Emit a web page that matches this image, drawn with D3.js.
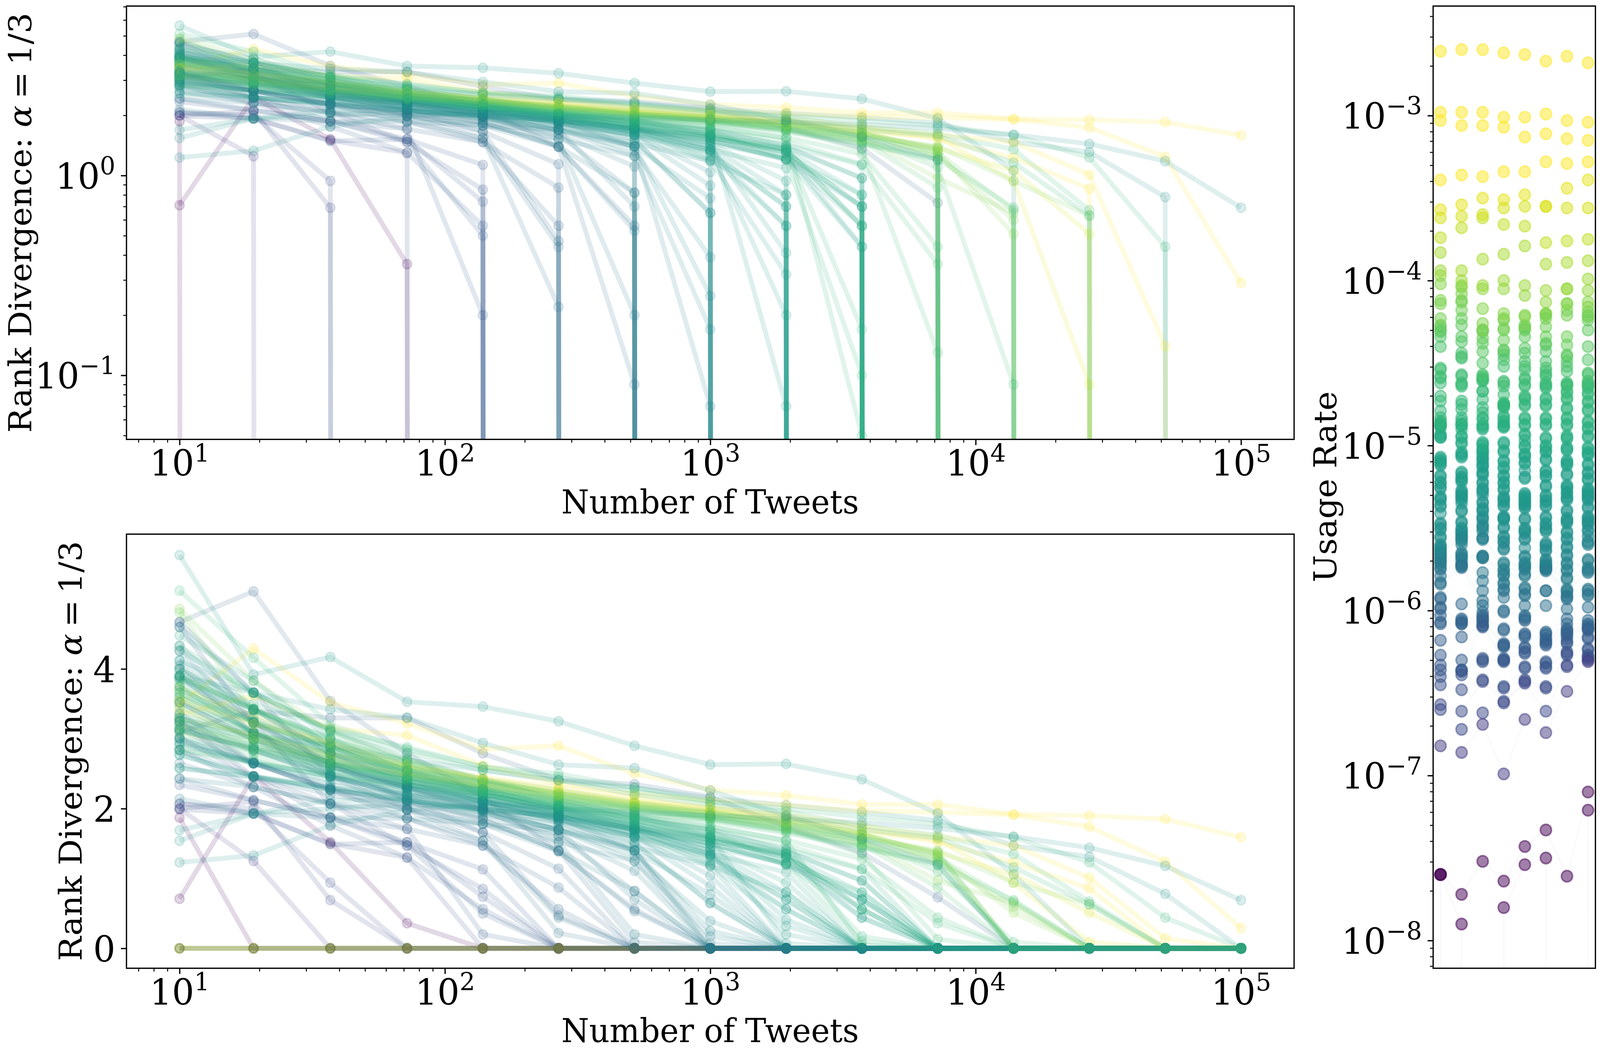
<!DOCTYPE html>
<html>
<head>
<meta charset="utf-8">
<script src="https://cdn.jsdelivr.net/npm/d3@7"></script>
<style>
  html, body { margin: 0; background: #fff; overflow: hidden; }
  text { font-family: "DejaVu Serif", serif; fill: #000; }
</style>
</head>
<body>
<div id="chart"></div>
<script>
const tweetCounts = [10, 19, 37, 72, 139, 268, 518, 1000, 1931, 3727, 7196, 13895, 26827, 51795, 100000]
const xTickExponents = [1, 2, 3, 4, 5]
const topTickExponents = [-1, 0]
const bottomTicks = [0, 2, 4]
const usageTickExponents = [-8, -7, -6, -5, -4, -3]

// rank divergence per word at each tweet count, the trailing zeros are left out.
// words run from the highest usage to the lowest
const divergenceRows = [
  [3.50, 4.29, 3.52, 3.22, 2.85, 2.90, 2.50, 2.27, 2.19, 2.06, 2.06, 1.92, 1.90, 1.85, 1.59],
  [3.35, 3.62, 3.15, 3.05, 2.62, 2.36, 2.21, 2.12, 2.05, 1.97, 1.95, 1.91, 1.74, 1.24, 0.29],
  [3.55, 3.21, 2.95, 2.62, 2.45, 2.31, 2.16, 2.01, 1.92, 1.76, 1.60, 1.47, 1.01, 0.14],
  [3.72, 3.32, 2.92, 2.55, 2.36, 2.24, 2.10, 1.97, 1.86, 1.72, 1.52, 1.23, 0.86],
  [3.28, 3.06, 2.78, 2.60, 2.42, 2.26, 2.11, 2.02, 1.88, 1.66, 1.56, 0.94, 0.09],
  [3.42, 3.01, 2.71, 2.49, 2.33, 2.20, 2.06, 1.95, 1.81, 1.63, 1.37, 1.06, 0.51],
  [], [], [], [],
  // light green
  [3.18, 2.96, 2.66, 2.47, 2.30, 2.14, 2.03, 1.90, 1.73, 1.51, 1.31, 0.51],
  [3.08, 2.88, 2.72, 2.52, 2.28, 2.12, 1.98, 1.88, 1.76, 1.53, 0.97, 0.65],
  [4.86, 3.83, 3.10, 2.70, 2.40, 2.22, 2.07, 1.93, 1.83, 1.64, 1.25, 0.60],
  [4.81, 3.40, 2.90, 2.58, 2.38, 2.18, 2.02, 1.96, 1.78, 1.59, 1.40, 0.94, 0.63],
  [3.75, 3.25, 2.88, 2.62, 2.40, 2.23, 2.08, 1.98, 1.84, 1.65, 1.33],
  [3.90, 3.43, 2.98, 2.68, 2.43, 2.27, 2.09, 1.94, 1.79, 1.58, 1.38],
  [3.65, 3.22, 2.85, 2.55, 2.37, 2.21, 2.04, 1.93, 1.80, 1.62, 1.36],
  [3.52, 3.09, 2.77, 2.50, 2.32, 2.16, 2.00, 1.90, 1.72, 1.56, 1.30, 0.67],
  [3.25, 2.86, 2.64, 2.46, 2.29, 2.13, 1.99, 1.86, 1.69, 1.47, 1.24],
  [3.13, 2.82, 2.60, 2.42, 2.26, 2.10, 1.97, 1.85, 1.70, 1.49, 0.87],
  [2.84, 2.65, 2.47, 2.33, 2.20, 2.06, 1.92, 1.84, 1.67, 1.45, 1.21, 0.69],
  [3.60, 3.12, 2.79, 2.56, 2.35, 2.17, 2.01, 1.89, 1.77, 1.55, 1.10, 0.09],
  [3.01, 2.78, 2.55, 2.38, 2.24, 2.08, 1.95, 1.82, 1.65, 1.44, 1.19],
  [3.85, 3.42, 3.00, 2.65, 2.42, 2.20, 2.03, 1.87, 1.71, 1.35, 0.13],
  [3.20, 2.90, 2.65, 2.45, 2.25, 2.05, 1.90, 1.75, 1.55, 1.28, 0.44],
  [2.92, 2.70, 2.50, 2.35, 2.20, 2.02, 1.85, 1.70, 1.48, 1.14, 0.36],
  [5.12, 4.16, 3.20, 2.85, 2.60, 2.50, 2.30, 2.10, 1.96, 1.75, 1.62, 1.35, 0.67],
  [4.33, 3.66, 3.13, 2.80, 2.55, 2.41, 2.20, 2.05, 1.90, 1.70, 1.58, 1.16, 0.63],
  [4.00, 3.50, 3.15, 2.88, 2.60, 2.45, 2.25, 2.10, 2.00, 1.88, 1.78, 1.59, 1.23, 0.44],
  [3.90, 3.42, 2.95, 2.60, 2.38, 2.14, 1.90, 1.74, 1.54, 0.05],
  [3.29, 3.00, 2.65, 2.40, 2.20, 2.04, 1.87, 1.68, 1.20, 0.10],
  [3.75, 3.08, 2.79, 2.53, 2.30, 2.10, 1.83, 1.59, 1.35, 0.17],
  [3.60, 3.25, 2.87, 2.48, 2.21, 2.00, 1.80, 1.60, 1.36, 0.56],
  [2.84, 2.68, 2.45, 2.30, 2.15, 1.95, 1.78, 1.55, 1.30, 0.70],
  [3.45, 2.99, 2.67, 2.41, 2.20, 1.98, 1.75, 1.50, 1.22, 0.80],
  [4.26, 3.66, 3.10, 2.66, 2.34, 2.05, 1.83, 1.62, 1.38, 0.97],
  [3.88, 3.42, 3.02, 2.60, 2.30, 2.07, 1.86, 1.66, 1.42, 1.13],
  [3.12, 2.86, 2.60, 2.35, 2.15, 1.93, 1.72, 1.54, 1.35, 0.56],
  [3.35, 3.05, 2.70, 2.45, 2.27, 2.02, 1.80, 1.57, 1.30, 0.70],
  [2.77, 2.47, 2.30, 2.12, 2.00, 1.88, 1.70, 1.50, 1.20, 0.44],
  // teal green
  [3.70, 3.23, 2.89, 2.52, 2.25, 2.00, 1.78, 1.55, 1.34, 0.80],
  [3.15, 2.84, 2.50, 2.28, 2.10, 1.92, 1.70, 1.45, 1.22, 0.56],
  [3.66, 3.08, 2.70, 2.40, 2.18, 1.93, 1.68, 1.33, 0.70],
  [4.48, 3.83, 3.00, 2.53, 2.25, 1.95, 1.70, 1.25, 0.56],
  [2.58, 2.46, 2.27, 2.12, 1.98, 1.82, 1.59, 1.18, 0.80],
  [3.25, 2.99, 2.60, 2.33, 2.12, 1.90, 1.65, 1.35, 1.09],
  [4.00, 3.42, 2.93, 2.55, 2.28, 2.02, 1.75, 1.45, 0.94],
  [3.90, 3.30, 2.88, 2.50, 2.22, 1.98, 1.72, 1.40, 0.80],
  [2.95, 2.66, 2.47, 2.25, 2.05, 1.85, 1.60, 1.30, 0.70],
  [3.30, 2.90, 2.55, 2.31, 2.10, 1.90, 1.62, 1.33, 0.56],
  [3.55, 3.08, 2.65, 2.35, 2.15, 1.95, 1.70, 1.40, 0.41],
  [3.02, 2.65, 2.40, 2.20, 2.05, 1.88, 1.66, 1.20, 0.32],
  [3.83, 3.23, 2.79, 2.46, 2.20, 2.00, 1.75, 1.35, 0.20],
  [4.12, 3.66, 3.12, 2.72, 2.42, 2.12, 1.90, 1.60, 0.07],
  [5.63, 3.92, 4.17, 3.53, 3.46, 3.25, 2.90, 2.63, 2.64, 2.42, 1.93, 1.06],
  [3.30, 3.05, 2.90, 2.70, 2.55, 2.40, 2.30, 2.15, 2.05, 1.95, 1.83, 1.47, 1.31, 0.78],
  [1.69, 1.93, 2.00, 2.07, 2.00, 1.88, 1.72, 1.59, 1.30, 0.44],
  [2.58, 2.45, 2.30, 2.20, 2.10, 2.00, 1.95, 1.90, 1.85, 1.80, 1.72, 1.60, 1.44, 1.18, 0.69],
  [1.23, 1.33, 1.76, 1.98, 2.07, 2.00, 1.88, 1.70, 1.40, 0.97],
  [1.54, 1.93, 2.12, 2.12, 1.98, 1.90, 1.70, 1.50, 1.20, 0.70],
  [3.90, 3.66, 3.42, 3.30, 2.94, 2.63, 2.58, 2.26, 1.90, 1.57, 1.20],
  // teal
  [4.12, 3.42, 2.79, 2.37, 2.10, 1.82, 1.52, 0.65],
  [2.77, 2.46, 2.27, 2.12, 1.95, 1.70, 1.45, 1.18],
  [3.75, 3.08, 2.65, 2.31, 2.05, 1.84, 1.60, 1.04],
  [4.60, 3.66, 2.89, 2.45, 2.17, 1.90, 1.59, 0.89],
  [3.13, 2.84, 2.46, 2.20, 1.98, 1.75, 1.40, 0.77],
  [3.87, 3.23, 2.75, 2.35, 2.10, 1.85, 1.50, 0.65],
  [2.92, 2.65, 2.35, 2.12, 1.92, 1.70, 1.33, 0.39],
  [4.33, 3.42, 2.80, 2.41, 2.10, 1.88, 1.40, 0.25],
  [3.20, 2.84, 2.46, 2.20, 1.98, 1.70, 1.25, 0.17],
  [3.52, 2.99, 2.60, 2.30, 2.02, 1.80, 1.40, 0.07],
  [2.14, 1.93, 1.87, 1.86, 1.78, 1.69, 1.40],
  [4.00, 3.08, 2.50, 2.15, 1.84, 1.40, 0.82],
  [2.43, 2.31, 2.07, 1.98, 1.78, 1.52, 1.25],
  [3.52, 2.99, 2.46, 2.17, 1.95, 1.62, 1.11],
  [3.00, 2.65, 2.27, 2.10, 1.88, 1.60, 0.82],
  [4.26, 3.23, 2.65, 2.30, 2.00, 1.69, 0.70],
  [2.84, 2.46, 2.20, 2.00, 1.78, 1.39, 0.53],
  [3.90, 3.08, 2.60, 2.27, 1.98, 1.52, 0.20],
  [3.25, 2.65, 2.30, 2.05, 1.85, 1.40, 0.09],
  [2.65, 2.31, 2.07, 1.86, 1.54, 0.44],
  [3.37, 2.65, 2.27, 1.98, 1.54, 0.22],
  // blue
  [4.05, 3.23, 2.65, 2.12, 1.66, 0.47],
  [3.13, 2.65, 2.27, 1.86, 1.47, 0.56],
  [2.43, 2.12, 1.87, 1.71, 1.47, 0.87],
  [4.67, 3.66, 2.46, 2.00, 1.66, 1.14],
  [4.67, 5.11, 3.54, 2.79, 2.17, 1.39, 0.56],
  [3.10, 3.40, 3.30, 3.30, 2.79, 2.41, 2.35, 2.17, 1.74, 1.37, 0.73],
  [3.01, 2.46, 2.07, 1.71, 0.20],
  [3.25, 2.46, 1.87, 1.47, 0.50],
  [2.84, 2.31, 1.76, 1.30, 0.56],
  [2.34, 2.12, 1.87, 1.52, 0.74],
  [4.60, 3.23, 2.07, 1.47, 0.85],
  [1.99, 1.93, 1.49, 1.52, 1.13],
  [2.07, 1.93, 1.50, 1.30],
  [2.07, 2.00, 0.94],
  [2.00, 2.10, 0.69],
  [2.00, 1.25],
  // purple
  [1.87],
  [0.71, 2.46, 1.52, 0.36],
  []
]

// log10 usage rate in each of the eight bins, same word order, null where the word is missing
const usageBin0 = [-2.61, -2.98, -3.03, -3.39, -3.57, -3.62, -3.74, -3.83, -3.94, -3.97,
  -4.02, -4.12, -4.14, -4.23, -4.27, -4.28, -4.30, -4.31, -4.34, -4.40, -4.53, -4.54, -4.58, -4.59, -4.62,
  -4.70, -4.73, -4.79, -4.83, -4.85, -4.86, -4.87, -4.87, -4.88, -4.88, -4.89, -4.93, -4.94, -4.95, -4.95,
  -5.07, -5.08, -5.09, -5.10, -5.11, -5.12, -5.18, -5.19, -5.22, -5.23, -5.25, -5.26, -5.31, -5.32, -5.33,
  -5.36, -5.37, -5.41, -5.47, -5.48, -5.50, -5.51, -5.55, -5.56, -5.60, -5.61, -5.62, -5.63, -5.64, -5.65,
  -5.66, -5.67, -5.68, -5.69, -5.70, -5.71, -5.72, -5.74, -5.75, -5.79, -5.83, -5.84,
  -5.92, -5.93, -5.98, -5.99, -6.03, -6.07, -6.08, -6.18, -6.27, -6.33, -6.36, -6.40, -6.45, -6.57, -6.60, -6.82,
  -7.60, -7.60, -7.60]
const usageBin1 = [-2.60, -2.98, -3.06, -3.36, -3.54, -3.61, -3.68, -3.94, -4.00, -4.03,
  -4.04, -4.08, -4.12, -4.13, -4.18, -4.23, -4.27, -4.34, -4.37, -4.44, -4.46, -4.47, -4.57, -4.58, -4.62,
  -4.63, -4.64, -4.73, -4.75, -4.78, -4.83, -4.85, -4.87, -4.87, -4.88, -4.90, -4.94, -4.95, -4.98, -4.99,
  -5.04, -5.05, -5.06, -5.07, -5.16, -5.17, -5.19, -5.20, -5.21, -5.22, -5.27, -5.28, -5.29, -5.30, -5.31,
  -5.32, -5.33, -5.35, -5.39, -5.40, -5.46, -5.47, -5.50, -5.51, -5.52, -5.53, -5.54, -5.55, -5.56, -5.57,
  -5.58, -5.60, -5.65, -5.66, -5.67, -5.68, -5.69, -5.71, -5.72, -5.73, -5.73, -5.74,
  -5.96, -6.05, -6.06, -6.07, -6.08, -6.08, -6.16, -6.30, -6.36, -6.36, -6.37, -6.39, -6.48, -6.61, -6.72, -6.86,
  -7.72, -7.90, null]
const usageBin2 = [-2.60, -2.98, -3.06, -3.37, -3.50, -3.60, -3.62, -3.87, -4.03, -4.05,
  -4.17, -4.26, -4.30, -4.30, -4.31, -4.35, -4.38, -4.43, -4.50, -4.57, -4.58, -4.59, -4.60, -4.60, -4.61,
  -4.67, -4.67, -4.72, -4.77, -4.80, -4.83, -4.84, -4.87, -4.88, -4.89, -4.90, -4.98, -4.99, -5.00, -5.02,
  -5.03, -5.04, -5.05, -5.07, -5.08, -5.09, -5.11, -5.12, -5.13, -5.16, -5.17, -5.18, -5.22, -5.23, -5.26,
  -5.27, -5.28, -5.30, -5.34, -5.35, -5.38, -5.39, -5.40, -5.43, -5.44, -5.45, -5.48, -5.49, -5.50, -5.52,
  -5.56, -5.56, -5.57, -5.67, -5.67, -5.68, -5.68, -5.77, -5.82, -5.88, -5.94, -5.97,
  -6.01, -6.03, -6.04, -6.05, -6.06, -6.07, -6.09, -6.09, -6.10, -6.29, -6.30, -6.31, -6.42, -6.43, -6.62, -6.69,
  -7.52, null, null]
const usageBin3 = [-2.62, -3.01, -3.07, -3.34, -3.51, -3.56, -3.66, -3.84, -4.00, -4.05,
  -4.20, -4.23, -4.24, -4.29, -4.30, -4.36, -4.42, -4.43, -4.45, -4.48, -4.52, -4.61, -4.62, -4.64, -4.69,
  -4.74, -4.75, -4.75, -4.76, -4.76, -4.77, -4.82, -4.83, -4.85, -4.86, -4.88, -4.88, -4.89, -4.98, -4.99,
  -5.03, -5.04, -5.09, -5.10, -5.13, -5.14, -5.18, -5.19, -5.22, -5.23, -5.26, -5.27, -5.31, -5.32, -5.33,
  -5.34, -5.36, -5.37, -5.43, -5.44, -5.44, -5.45, -5.49, -5.50, -5.55, -5.56, -5.58, -5.59, -5.62, -5.63,
  -5.71, -5.72, -5.75, -5.76, -5.78, -5.79, -5.83, -5.84, -5.87, -5.88, -5.92, -6.00,
  -6.01, -6.11, -6.12, -6.20, -6.21, -6.21, -6.22, -6.29, -6.30, -6.30, -6.31, -6.46, -6.47, -6.55, -6.56, -6.99,
  -7.64, -7.80, null]
const usageBin4 = [-2.63, -3.01, -3.13, -3.34, -3.48, -3.55, -3.67, -3.79, -4.03, -4.09,
  -4.21, -4.22, -4.27, -4.28, -4.29, -4.30, -4.34, -4.41, -4.44, -4.49, -4.52, -4.54, -4.59, -4.60, -4.63,
  -4.64, -4.70, -4.71, -4.72, -4.75, -4.76, -4.83, -4.84, -4.87, -4.88, -4.93, -4.94, -4.97, -5.00, -5.01,
  -5.05, -5.06, -5.07, -5.10, -5.11, -5.15, -5.19, -5.20, -5.29, -5.30, -5.31, -5.32, -5.33, -5.34, -5.35,
  -5.36, -5.37, -5.38, -5.44, -5.45, -5.50, -5.51, -5.52, -5.53, -5.56, -5.57, -5.62, -5.67, -5.68, -5.71,
  -5.72, -5.73, -5.74, -5.75, -5.78, -5.79, -5.86, -5.87, -5.90, -5.91, -5.97, -6.03,
  -6.04, -6.05, -6.06, -6.14, -6.15, -6.16, -6.22, -6.23, -6.25, -6.26, -6.34, -6.35, -6.42, -6.43, -6.44, -6.66,
  -7.43, -7.54, null]
const usageBin5 = [-2.67, -2.99, -3.11, -3.28, -3.55, -3.55, -3.77, -3.90, -4.06, -4.13,
  -4.20, -4.20, -4.21, -4.23, -4.28, -4.34, -4.38, -4.39, -4.43, -4.49, -4.53, -4.55, -4.57, -4.58, -4.62,
  -4.63, -4.64, -4.65, -4.71, -4.72, -4.75, -4.76, -4.83, -4.84, -4.87, -4.88, -4.95, -4.96, -5.00, -5.01,
  -5.03, -5.04, -5.08, -5.09, -5.15, -5.16, -5.18, -5.19, -5.24, -5.25, -5.30, -5.31, -5.33, -5.34, -5.36,
  -5.37, -5.43, -5.44, -5.47, -5.48, -5.50, -5.51, -5.52, -5.59, -5.60, -5.61, -5.63, -5.64, -5.69, -5.70,
  -5.71, -5.72, -5.73, -5.73, -5.74, -5.74, -5.75, -5.75, -5.76, -5.88, -5.88, -5.97,
  -6.13, -6.14, -6.15, -6.17, -6.18, -6.19, -6.20, -6.21, -6.31, -6.32, -6.34, -6.35, -6.46, -6.47, -6.61, -6.74,
  -7.33, -7.50, null]
const usageBin6 = [-2.64, -3.03, -3.14, -3.29, -3.44, -3.56, -3.76, -3.89, -4.05, -4.05,
  -4.14, -4.14, -4.18, -4.21, -4.34, -4.39, -4.45, -4.46, -4.49, -4.52, -4.55, -4.62, -4.63, -4.63, -4.64,
  -4.67, -4.68, -4.71, -4.72, -4.77, -4.78, -4.83, -4.84, -4.87, -4.88, -4.94, -4.95, -4.96, -5.01, -5.02,
  -5.03, -5.09, -5.10, -5.11, -5.12, -5.17, -5.18, -5.24, -5.25, -5.26, -5.28, -5.29, -5.31, -5.32, -5.33,
  -5.39, -5.40, -5.44, -5.45, -5.46, -5.47, -5.52, -5.53, -5.56, -5.57, -5.61, -5.62, -5.66, -5.67, -5.71,
  -5.72, -5.75, -5.76, -5.80, -5.81, -5.87, -5.88, -5.89, -5.91, -5.92, -5.93, -5.99,
  -6.05, -6.08, -6.11, -6.12, -6.13, -6.14, -6.15, -6.17, -6.19, -6.20, -6.25, -6.26, -6.27, -6.33, -6.34, -6.49,
  -7.61, null, null]
const usageBin7 = [-2.68, -3.04, -3.15, -3.28, -3.39, -3.56, -3.75, -3.88, -3.99, -4.06,
  -4.13, -4.16, -4.19, -4.21, -4.22, -4.24, -4.30, -4.40, -4.48, -4.56, -4.57, -4.61, -4.62, -4.63, -4.64,
  -4.65, -4.68, -4.69, -4.73, -4.74, -4.78, -4.79, -4.85, -4.86, -4.89, -4.90, -4.94, -4.95, -5.01, -5.02,
  -5.04, -5.05, -5.06, -5.11, -5.12, -5.16, -5.17, -5.20, -5.21, -5.26, -5.27, -5.28, -5.29, -5.30, -5.31,
  -5.32, -5.33, -5.37, -5.38, -5.43, -5.44, -5.45, -5.46, -5.47, -5.48, -5.51, -5.52, -5.55, -5.58, -5.59,
  -5.60, -5.69, -5.70, -5.74, -5.75, -5.76, -5.77, -5.87, -5.88, -5.90, -5.91, -5.98,
  -6.06, -6.08, -6.09, -6.10, -6.11, -6.11, -6.12, -6.16, -6.17, -6.23, -6.24, -6.27, -6.28, -6.29, -6.30, -6.31,
  -7.10, -7.21, null]
const usageBins = [usageBin0, usageBin1, usageBin2, usageBin3, usageBin4, usageBin5, usageBin6, usageBin7]

// mean log10 usage to position on the viridis ramp
const colorUsage = [-7.5, -6.8, -6.4, -6.1, -5.9, -5.7, -5.5, -5.15, -4.85, -4.55, -4.28, -4.03, -3.83, -3.56, -3.38]
const colorRamp = [0, 0.15, 0.25, 0.32, 0.37, 0.43, 0.5, 0.56, 0.64, 0.7, 0.78, 0.85, 0.88, 0.94, 1]

const WIDTH = 4200
const HEIGHT = 2700
const ZERO = 1e-300
const PT = 300 / 72
const TITLE_SIZE = 20 * PT
const TICK_SIZE = 22 * PT
const BLUE_FROM = 82

const panelLeft = { left: 332, right: 3397 }
const panels = {
  top: { top: 15.5, bottom: 1124.5 },
  bottom: { top: 1367, bottom: 2478 },
  usage: { left: 3762, right: 4188, top: 15.5, bottom: 2478 }
}

const rampScale = d3.scaleLinear().domain(colorUsage).range(colorRamp).clamp(true)

const words = divergenceRows.map((row, i) => {
  const logs = usageBins.map(bin => bin[i])
  return {
    values: tweetCounts.map((_, k) => row[k] === undefined ? 0 : row[k]),
    usage: logs.map(v => v === null ? 0 : Math.pow(10, v)),
    color: d3.interpolateViridis(rampScale(d3.mean(logs))),
    flat: row.length === 0,
    rare: i >= BLUE_FROM,
    drawKey: (i * 37) % divergenceRows.length
  }
})

// rare words at the bottom of the stack, then the flat ones, the rest in no particular order
const drawOrder = words.filter(w => w.rare && !w.flat)
  .concat(words.filter(w => w.flat))
  .concat(words.filter(w => !w.rare && !w.flat).sort((a, b) => d3.ascending(a.drawKey, b.drawKey)))

// the window can be narrower than asked for, so the drawing is fitted to it
const svg = d3.select('#chart').append('svg')
  .attr('viewBox', `0 0 ${WIDTH} ${HEIGHT}`)
  .attr('preserveAspectRatio', 'none')
  .style('display', 'block')
  .style('width', '100vw')
  .style('height', '100vh')

const x = d3.scaleLog()
  .domain([Math.pow(10, 0.8), Math.pow(10, 5.2)])
  .range([panelLeft.left, panelLeft.right])
const yTop = d3.scaleLog().domain([0.0478, 7.05]).range([panels.top.bottom, panels.top.top])
const yBottom = d3.scaleLinear().domain([-0.285, 5.93]).range([panels.bottom.bottom, panels.bottom.top])
const xUsage = d3.scaleLinear().domain([-0.35, 7.35]).range([panels.usage.left, panels.usage.right])
const yUsage = d3.scaleLog()
  .domain([Math.pow(10, -8.168), Math.pow(10, -2.336)])
  .range([panels.usage.bottom, panels.usage.top])

function minorTicks (scale) {
  const [lo, hi] = d3.extent(scale.domain())
  const out = []
  d3.range(Math.floor(Math.log10(lo)), Math.ceil(Math.log10(hi))).forEach((k) => {
    d3.range(2, 10).forEach((m) => {
      const v = m * Math.pow(10, k)
      if (v >= lo && v <= hi) out.push(v)
    })
  })
  return out
}

function powerLabel (text, exponent) {
  text.attr('font-size', TICK_SIZE).attr('fill', '#000').text(null)
  text.append('tspan').text('10')
  text.append('tspan')
    .attr('font-size', TICK_SIZE * 0.7)
    .attr('dy', -36)
    .text(String(exponent).replace('-', '\u2212'))
}

function drawXAxis (g, bottom) {
  const axis = g.append('g').attr('transform', `translate(0,${bottom})`)
  axis.append('g')
    .call(d3.axisBottom(x).tickValues(minorTicks(x)).tickSize(2 * PT).tickFormat(''))
    .call(s => s.selectAll('line').attr('stroke-width', 0.6 * PT))
    .call(s => s.select('.domain').remove())
  axis.append('g')
    .call(d3.axisBottom(x).tickValues(xTickExponents.map(e => Math.pow(10, e))).tickSize(3.5 * PT))
    .call(s => s.selectAll('line').attr('stroke-width', 0.8 * PT))
    .call(s => s.select('.domain').remove())
    .selectAll('.tick text')
    .attr('y', 93)
    .attr('dy', 0)
    .each(function (d, i) { powerLabel(d3.select(this), xTickExponents[i]) })
}

function drawLogYAxis (g, scale, left, exponents) {
  const axis = g.append('g').attr('transform', `translate(${left},0)`)
  axis.append('g')
    .call(d3.axisLeft(scale).tickValues(minorTicks(scale)).tickSize(2 * PT).tickFormat(''))
    .call(s => s.selectAll('line').attr('stroke-width', 0.6 * PT))
    .call(s => s.select('.domain').remove())
  axis.append('g')
    .call(d3.axisLeft(scale).tickValues(exponents.map(e => Math.pow(10, e))).tickSize(3.5 * PT))
    .call(s => s.selectAll('line').attr('stroke-width', 0.8 * PT))
    .call(s => s.select('.domain').remove())
    .selectAll('.tick text')
    .attr('x', -29.2)
    .attr('dy', 33)
    .each(function (d, i) { powerLabel(d3.select(this), exponents[i]) })
}

function frame (g, left, right, top, bottom) {
  g.append('rect')
    .attr('x', left)
    .attr('y', top)
    .attr('width', right - left)
    .attr('height', bottom - top)
    .attr('fill', 'none')
    .attr('stroke', '#000')
    .attr('stroke-width', 0.8 * PT)
}

function clip (id, left, right, top, bottom) {
  svg.append('clipPath').attr('id', id).append('rect')
    .attr('x', left)
    .attr('y', top)
    .attr('width', right - left)
    .attr('height', bottom - top)
}

function divergenceLabel (cx, cy) {
  const label = svg.append('text')
    .attr('transform', `translate(${cx},${cy}) rotate(-90)`)
    .attr('text-anchor', 'middle')
    .attr('font-size', TITLE_SIZE)
  label.append('tspan').text('Rank Divergence: ')
  label.append('tspan').attr('font-style', 'italic').text('\u03b1')
  label.append('tspan').text('\u2009=\u20091/3')
}

function drawWords (g, yValue, usePoint) {
  const line = d3.line()
    .x((d, i) => x(tweetCounts[i]))
    .y(d => yValue(d))
  const word = g.selectAll('.word').data(drawOrder).enter().append('g').attr('class', 'word')
  word.append('path')
    .attr('d', d => line(d.values))
    .attr('fill', 'none')
    .attr('stroke', d => d.color)
    .attr('stroke-opacity', 0.15)
    .attr('stroke-width', 3 * PT)
    .attr('stroke-linejoin', 'round')
  word.selectAll('circle')
    .data(d => d.values.map((v, i) => ({ v, i, color: d.color })).filter(p => usePoint(p.v)))
    .enter().append('circle')
    .attr('cx', p => x(tweetCounts[p.i]))
    .attr('cy', p => yValue(p.v))
    .attr('r', 12)
    .attr('fill', p => p.color)
    .attr('fill-opacity', 0.15)
    .attr('stroke', p => p.color)
    .attr('stroke-opacity', 0.15)
    .attr('stroke-width', 1 * PT)
}

// top panel, log axis, zero falls straight off the bottom
clip('clip-top', panelLeft.left, panelLeft.right, panels.top.top, panels.top.bottom)
const topPanel = svg.append('g')
drawWords(
  topPanel.append('g').attr('clip-path', 'url(#clip-top)'),
  v => yTop(Math.max(v, ZERO)),
  v => v > 0
)
drawXAxis(topPanel, panels.top.bottom)
drawLogYAxis(topPanel, yTop, panelLeft.left, topTickExponents)
frame(topPanel, panelLeft.left, panelLeft.right, panels.top.top, panels.top.bottom)

// bottom panel, linear axis
const bottomPanel = svg.append('g')
drawWords(bottomPanel.append('g'), v => yBottom(v), () => true)
drawXAxis(bottomPanel, panels.bottom.bottom)
const bottomAxis = bottomPanel.append('g').attr('transform', `translate(${panelLeft.left},0)`)
bottomAxis
  .call(d3.axisLeft(yBottom).tickValues(bottomTicks).tickFormat(d3.format('d')).tickSize(3.5 * PT))
  .call(s => s.selectAll('line').attr('stroke-width', 0.8 * PT))
  .call(s => s.select('.domain').remove())
  .selectAll('.tick text')
  .attr('x', -29.2)
  .attr('dy', 33)
  .attr('font-size', TICK_SIZE)
  .attr('fill', '#000')
frame(bottomPanel, panelLeft.left, panelLeft.right, panels.bottom.top, panels.bottom.bottom)

// usage panel
clip('clip-usage', panels.usage.left, panels.usage.right, panels.usage.top, panels.usage.bottom)
const usagePanel = svg.append('g')
const usageMarks = usagePanel.append('g').attr('clip-path', 'url(#clip-usage)')
const usageLine = d3.line()
  .x((d, i) => xUsage(i))
  .y(d => yUsage(Math.max(d, ZERO)))
const usageWord = usageMarks.selectAll('.usage').data(drawOrder).enter().append('g').attr('class', 'usage')
usageWord.append('path')
  .attr('d', d => usageLine(d.usage))
  .attr('fill', 'none')
  .attr('stroke', d => d.color)
  .attr('stroke-opacity', 0.03)
  .attr('stroke-width', 0.8 * PT)
usageWord.selectAll('circle')
  .data(d => d.usage.map((v, i) => ({ v, i, color: d.color })).filter(p => p.v > 0))
  .enter().append('circle')
  .attr('cx', p => xUsage(p.i))
  .attr('cy', p => yUsage(p.v))
  .attr('r', 14.6)
  .attr('fill', p => p.color)
  .attr('fill-opacity', 0.5)
  .attr('stroke', p => p.color)
  .attr('stroke-opacity', 0.5)
  .attr('stroke-width', 1 * PT)
drawLogYAxis(usagePanel, yUsage, panels.usage.left, usageTickExponents)
frame(usagePanel, panels.usage.left, panels.usage.right, panels.usage.top, panels.usage.bottom)

// axis titles
svg.selectAll('.x-title').data([1314, 2667]).enter().append('text')
  .attr('class', 'x-title')
  .attr('x', 1864)
  .attr('y', d => d)
  .attr('text-anchor', 'middle')
  .attr('font-size', TITLE_SIZE)
  .text('Number of Tweets')
divergenceLabel(82, 570)
divergenceLabel(214, 1922)
svg.append('text')
  .attr('transform', 'translate(3508,1246) rotate(-90)')
  .attr('text-anchor', 'middle')
  .attr('font-size', TITLE_SIZE)
  .text('Usage Rate')
</script>
</body>
</html>
